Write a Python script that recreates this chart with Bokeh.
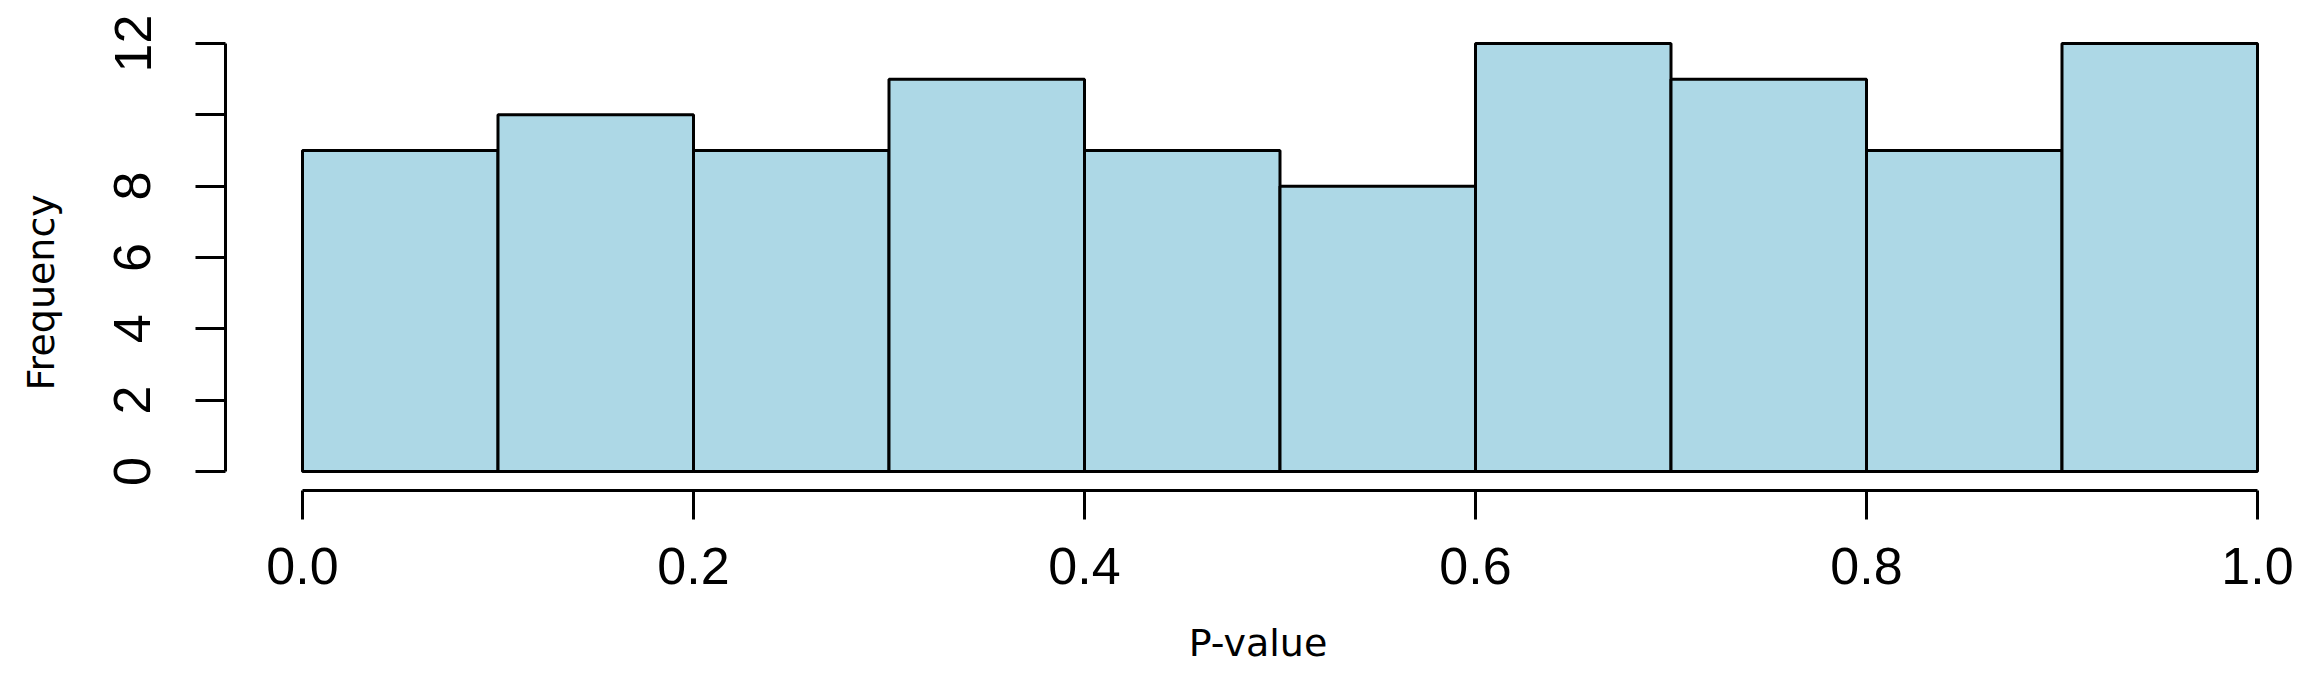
from bokeh.plotting import figure
from bokeh.models import Range1d, FixedTicker, Title
from bokeh.embed import file_html
from bokeh.resources import INLINE

# Data: histogram of p-values (bin edges and counts)
bin_left = [0.0, 0.1, 0.2, 0.3, 0.4, 0.5, 0.6, 0.7, 0.8, 0.9]
bin_right = [0.1, 0.2, 0.3, 0.4, 0.5, 0.6, 0.7, 0.8, 0.9, 1.0]
counts = [9, 10, 9, 11, 9, 8, 12, 11, 9, 12]

x_ticks = [0.0, 0.2, 0.4, 0.6, 0.8, 1.0]
x_tick_labels = ["0.0", "0.2", "0.4", "0.6", "0.8", "1.0"]
y_ticks = [0, 2, 4, 6, 8, 10, 12]
y_tick_labels = ["0", "2", "4", "6", "8", "", "12"]

TICK_FONT = "Liberation Sans"
TITLE_FONT = "DejaVu Sans"

p = figure(width=2300, height=677, output_backend="svg", toolbar_location=None,
           x_range=Range1d(-0.039386, 1.01688), y_range=Range1d(-0.533, 12.42),
           min_border_left=225, min_border_right=10, min_border_top=28,
           min_border_bottom=187)
p.outline_line_color = None
p.xgrid.visible = False
p.ygrid.visible = False
p.background_fill_color = "white"
p.border_fill_color = "white"

p.quad(left=bin_left, right=bin_right, bottom=0, top=counts,
       fill_color="#ADD8E6", line_color="black", line_width=3)

for ax, ticks, labels, bounds in ((p.xaxis[0], x_ticks, x_tick_labels, (0, 1)),
                                  (p.yaxis[0], y_ticks, y_tick_labels, (0, 12))):
    ax.ticker = FixedTicker(ticks=ticks)
    ax.major_label_overrides = {t: l for t, l in zip(ticks, labels)}
    ax.bounds = bounds
    ax.axis_line_width = 3
    ax.axis_line_color = "black"
    ax.major_tick_line_width = 3
    ax.major_tick_line_color = "black"
    ax.major_tick_in = 0
    ax.minor_tick_line_color = None
    ax.major_label_text_font = TICK_FONT
    ax.major_label_text_font_size = "52px"
    ax.major_label_text_color = "black"

xa = p.xaxis[0]
xa.major_tick_out = 29
xa.major_label_standoff = 28
xa.axis_label = "P-value"
xa.axis_label_text_font = TITLE_FONT
xa.axis_label_text_font_size = "38px"
xa.axis_label_text_font_style = "normal"
xa.axis_label_text_color = "black"
xa.axis_label_standoff = 34

ya = p.yaxis[0]
ya.major_tick_out = 30
ya.major_label_standoff = 45
ya.major_label_orientation = "vertical"
# blank axis label only reserves room between the tick labels and the title
ya.axis_label = " "
ya.axis_label_text_font_size = "10px"
ya.axis_label_standoff = 35

ylab = Title(text="Frequency", align="left", offset=100, standoff=0,
             vertical_align="bottom",
             text_font=TITLE_FONT, text_font_size="38px", text_font_style="normal",
             text_color="black")
p.add_layout(ylab, "left")

open("out.html", "w").write(file_html(p, INLINE))
